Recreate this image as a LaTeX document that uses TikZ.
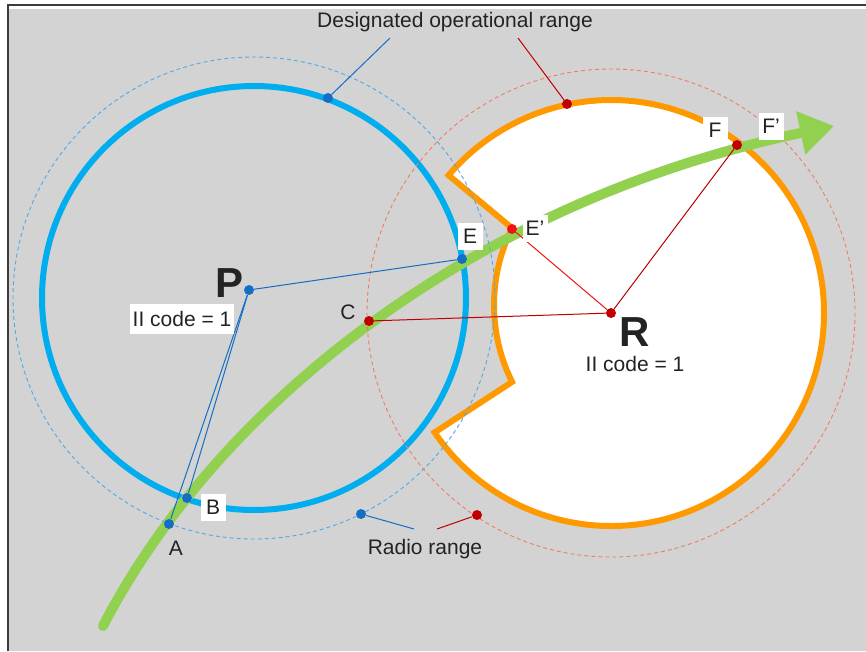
\documentclass[tikz,border=0pt]{standalone}
\usepackage{fontspec}
\setmainfont{Liberation Sans}
\usetikzlibrary{arrows.meta,positioning,calc}
\definecolor{bggray}{RGB}{211,211,211}
\definecolor{framegray}{RGB}{60,60,60}
\definecolor{pblue}{RGB}{0,174,239}
\definecolor{dotblue}{RGB}{20,110,200}
\definecolor{dashblue}{RGB}{80,170,230}
\definecolor{rorange}{RGB}{255,153,0}
\definecolor{dashred}{RGB}{240,125,95}
\definecolor{dotred}{RGB}{192,0,0}
\definecolor{brightred}{RGB}{240,20,20}
\definecolor{trackgreen}{RGB}{146,208,80}
\definecolor{txt}{RGB}{35,35,35}
\tikzset{
    every node/.style = {
        text=txt,
        font=\fontsize{21}{21}\selectfont,
        },
    blue dot/.style = {
        circle, inner sep=0pt, minimum size=10pt,
        fill=dotblue,
        },
    red dot/.style = {
        circle, inner sep=0pt, minimum size=10pt,
        fill=dotred,
        },
    white tag/.style = {
        fill=white, inner sep=0pt,
        minimum height=27pt, minimum width=25pt,
        },
    station label/.style = {
        font=\fontsize{42}{42}\selectfont\bfseries,
        inner sep=0pt,
        },
    op ring/.style = {
        pblue, line width=6pt,
        },
    radio ring/.style = {
        line width=0.9pt, dash pattern=on 4pt off 3pt,
        },
    blue link/.style = {
        draw=dotblue, line width=1pt,
        },
    red link/.style = {
        draw=dotred, line width=1pt,
        },
    flight path/.style = {
        draw=trackgreen, line width=10pt, line cap=round,
        -{Triangle[length=34pt,width=42pt]},
        },
}
\begin{document}
\begin{tikzpicture}[x=1pt,y=-1pt]
    \useasboundingbox (0,0) rectangle (866,651);
    % frame
    \fill[white] (0,0) rectangle (866,651);
    \fill[bggray] (9,9) rectangle (866,651);
    \draw[framegray, line width=2pt] (8,651) -- (8,5) -- (866,5);

    % centres
    \coordinate (Pc) at (254,298);
    \coordinate (R) at (611,313);
    \coordinate (Rin) at (667,305);

    % operational ranges
    \draw[op ring] (Pc) circle[radius=212];
    \filldraw[fill=white, draw=rorange, line width=6pt]
        ($(R)+(145.9:213)$) arc[start angle=145.9, end angle=-139.7, radius=213]
        -- ($(Rin)+(206.4:173)$) arc[start angle=206.4, end angle=153.6, radius=173]
        -- cycle;

    % flight path
    \coordinate (start) at (103,626);
    \coordinate (tip) at (834,126);
    \draw[flight path] (start) .. controls (220,400) and (480,200) .. (tip);

    % radio ranges
    \draw[radio ring, draw=dashblue] (Pc) circle[radius=241];
    \draw[radio ring, draw=dashred] (R) circle[radius=244];

    % points
    \node[blue dot] (P) at (249,290) {};
    \node[blue dot] (A) at (169,524) {};
    \node[blue dot] (B) at (187,498) {};
    \node[blue dot] (E) at (462,259) {};
    \node[red dot] (C) at (369,321) {};
    \node[red dot, fill=brightred] (Ep) at (512,229) {};
    \node[red dot] (F) at (737,145) {};
    \node[red dot] (Rdot) at (611,313) {};

    \path (P) edge[blue link] (E);
    \path (P) edge[blue link] (A);
    \path (P) edge[blue link] (B);
    \path (Rdot) edge[red link] (C);
    \path (Rdot) edge[red link, draw=brightred] (Ep);
    \path (Rdot) edge[red link] (F);

    % callouts
    \node (oplabel) at (455,22) {Designated operational range};
    \node (radiolabel) at (425,549) {Radio range};
    \coordinate (opl) at (390,38);
    \coordinate (opr) at (518,38);
    \coordinate (rdl) at (414,529);
    \coordinate (rdr) at (437,529);
    \node[blue dot] (opblue) at (328,98) {};
    \node[red dot] (opred) at (567,104) {};
    \node[blue dot] (rdblue) at (361,514) {};
    \node[red dot] (rdred) at (477,515) {};
    \path (opl) edge[blue link] (opblue);
    \path (opr) edge[red link] (opred);
    \path (rdl) edge[blue link] (rdblue);
    \path (rdr) edge[red link] (rdred);

    % labels
    \node[station label] (Plabel) at (230,283) {P};
    \node[station label] (Rlabel) at (635,332) {R};
    \node[fill=white, inner sep=3pt, minimum height=30pt] (Pcode) at (182,319) {II code = 1};
    \node[fill=white, fill opacity=0.3, text opacity=1, inner sep=3pt] (Rcode) at (635,364) {II code = 1};
    \node[white tag] (Etag) at (470,236) {E};
    \node[white tag] (Eptag) at (535,228) {E’};
    \node[white tag] (Ftag) at (715,130) {F};
    \node[white tag] (Fptag) at (771,126) {F’};
    \node[white tag] (Btag) at (213,507) {B};
    \node (Atag) at (176,548) {A};
    \node (Ctag) at (348,312) {C};
\end{tikzpicture}
\end{document}
